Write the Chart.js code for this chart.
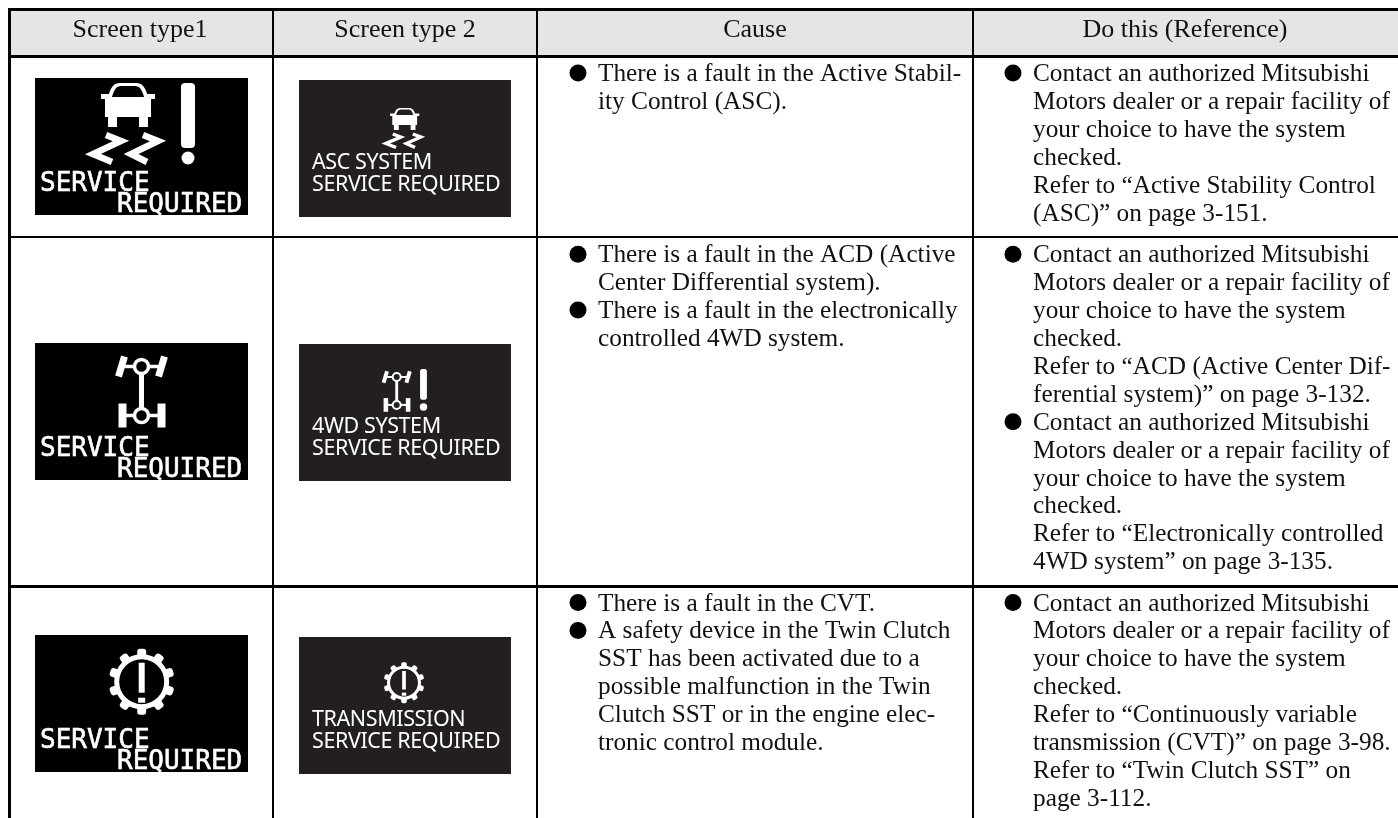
<!DOCTYPE html>
<html>
<head>
<meta charset="utf-8">
<title>Service required screens</title>
<script src="https://cdn.jsdelivr.net/npm/chart.js@4/dist/chart.umd.min.js"></script>
<style>
  html, body { margin: 0; padding: 0; background: #fff; overflow: hidden; }
  #wrap { position: absolute; left: 8px; top: 8px; width: 1390px; height: 810px; }
</style>
</head>
<body>
<div id="wrap"><canvas id="tableChart" width="1390" height="810"></canvas></div>
<script>
// table content
const columnHeaders = ['Screen type1', 'Screen type 2', 'Cause', 'Do this (Reference)'];
const screen1Lines = ['SERVICE', 'REQUIRED'];
const screen2Titles = ['ASC SYSTEM', '4WD SYSTEM', 'TRANSMISSION'];
const screen2Second = 'SERVICE REQUIRED';
const screenIcons = ['car', 'axles', 'gear'];

// each cell is a list of bullets, each bullet a list of wrapped lines
const causeCells = [
  [['There is a fault in the Active Stabil-', 'ity Control (ASC).']],
  [['There is a fault in the ACD (Active', 'Center Differential system).'],
   ['There is a fault in the electronically', 'controlled 4WD system.']],
  [['There is a fault in the CVT.'],
   ['A safety device in the Twin Clutch', 'SST has been activated due to a', 'possible malfunction in the Twin',
    'Clutch SST or in the engine elec-', 'tronic control module.']]
];
const actionCells = [
  [['Contact an authorized Mitsubishi', 'Motors dealer or a repair facility of', 'your choice to have the system', 'checked.',
    'Refer to “Active Stability Control', '(ASC)” on page 3-151.']],
  [['Contact an authorized Mitsubishi', 'Motors dealer or a repair facility of', 'your choice to have the system', 'checked.',
    'Refer to “ACD (Active Center Dif-', 'ferential system)” on page 3-132.'],
   ['Contact an authorized Mitsubishi', 'Motors dealer or a repair facility of', 'your choice to have the system', 'checked.',
    'Refer to “Electronically controlled', '4WD system” on page 3-135.']],
  [['Contact an authorized Mitsubishi', 'Motors dealer or a repair facility of', 'your choice to have the system', 'checked.',
    'Refer to “Continuously variable', 'transmission (CVT)” on page 3-98.', 'Refer to “Twin Clutch SST” on', 'page 3-112.']]
];

// layout, in page pixels (the scales run in page pixels too)
const colEdges = [9.5, 273, 537, 973];
const colWidths = [3, 2, 2, 2];
const rowEdges = [9.5, 56.5, 237, 586];
const rowWidths = [3, 3, 2, 3];
const rowBaselines = [81, 262.3, 610.5];
const lineGap = 27.9;
const bodyFont = '25.3px "Liberation Serif"';
const headFont = '26px "Liberation Serif"';
const headerCentres = [140, 405, 755, 1185];
const textLeft = [598, 1033];
const bulletX = [578, 1013];

const box1Tops = [78, 343, 635];
const box2Tops = [80, 344, 637];

// bullets go through the scatter dataset, one point per first line of a bullet
function bulletPoints(cells, x) {
  const pts = [];
  cells.forEach((cell, r) => {
    let line = 0;
    cell.forEach(bullet => {
      pts.push({ x: x, y: rowBaselines[r] + line * lineGap - 8 });
      line += bullet.length;
    });
  });
  return pts;
}

function drawCar(ctx, withMark, back) {
  ctx.fillStyle = '#fff';
  ctx.strokeStyle = '#fff';
  ctx.beginPath();
  ctx.moveTo(-20, 15);
  ctx.bezierCurveTo(-18, 4, -14, 0, -8, 0);
  ctx.lineTo(8, 0);
  ctx.bezierCurveTo(14, 0, 18, 4, 20, 15);
  ctx.closePath(); ctx.fill();
  ctx.fillRect(-27, 11, 54, 5);
  ctx.fillRect(-23, 14, 46, 20);
  ctx.fillRect(-20, 34, 9, 10);
  ctx.fillRect(11, 34, 9, 10);
  ctx.fillStyle = back;
  ctx.beginPath();
  ctx.moveTo(-16, 14);
  ctx.bezierCurveTo(-14, 6, -11, 3, -7, 3);
  ctx.lineTo(7, 3);
  ctx.bezierCurveTo(11, 3, 14, 6, 16, 14);
  ctx.closePath(); ctx.fill();
  ctx.lineWidth = 6.5;
  ctx.lineJoin = 'miter';
  [[-22, 52, -7, 58, -35, 71, -16, 79], [15, 52, 30, 58, 3, 71, 19, 79]].forEach(p => {
    ctx.beginPath();
    ctx.moveTo(p[0], p[1]); ctx.lineTo(p[2], p[3]); ctx.lineTo(p[4], p[5]); ctx.lineTo(p[6], p[7]);
    ctx.stroke();
  });
  if (withMark) {
    ctx.fillStyle = '#fff';
    ctx.beginPath(); ctx.roundRect(53, 0, 14, 65, 4); ctx.fill();
    ctx.beginPath(); ctx.arc(60, 75, 6.5, 0, Math.PI * 2); ctx.fill();
  }
}

function drawAxles(ctx, withMark, back) {
  ctx.fillStyle = '#fff';
  ctx.strokeStyle = '#fff';
  ctx.lineWidth = 3.5;
  ctx.beginPath(); ctx.moveTo(-20, 0); ctx.lineTo(20, 0); ctx.stroke();
  ctx.beginPath(); ctx.moveTo(-20, 49); ctx.lineTo(20, 49); ctx.stroke();
  [0, 49].forEach(y => {
    ctx.beginPath(); ctx.arc(0, y, 7, 0, Math.PI * 2);
    ctx.fillStyle = back; ctx.fill(); ctx.stroke();
  });
  ctx.fillStyle = '#fff';
  ctx.fillRect(-2.5, 7, 5, 35);
  ctx.lineWidth = 7;
  ctx.beginPath(); ctx.moveTo(-23, 10); ctx.lineTo(-17, -10); ctx.stroke();
  ctx.beginPath(); ctx.moveTo(17, 10); ctx.lineTo(23, -10); ctx.stroke();
  ctx.fillRect(-23, 37, 8, 24);
  ctx.fillRect(16, 37, 8, 24);
  if (withMark) {
    ctx.beginPath(); ctx.roundRect(41, -14, 12, 54, 4); ctx.fill();
    ctx.beginPath(); ctx.arc(47, 52.6, 6.5, 0, Math.PI * 2); ctx.fill();
  }
}

function drawGear(ctx) {
  ctx.fillStyle = '#fff';
  ctx.strokeStyle = '#fff';
  ctx.lineWidth = 5;
  ctx.beginPath(); ctx.arc(0, 0, 25, 0, Math.PI * 2); ctx.stroke();
  for (let i = 0; i < 10; i++) {
    ctx.save();
    ctx.rotate(i * Math.PI / 5);
    ctx.beginPath(); ctx.roundRect(-4.5, -33, 9, 10, 3); ctx.fill();
    ctx.restore();
  }
  ctx.fillRect(-3, -19, 6, 30);
  ctx.fillRect(-3.5, 16, 7, 5);
}

function iconAt(ctx, name, x, y, sx, sy, back, withMark) {
  ctx.save();
  ctx.translate(x, y);
  ctx.scale(sx, sy);
  if (name === 'car') drawCar(ctx, withMark, back);
  if (name === 'axles') drawAxles(ctx, withMark, back);
  if (name === 'gear') drawGear(ctx);
  ctx.restore();
}

function drawCellText(ctx, cells, left) {
  ctx.font = bodyFont;
  ctx.fillStyle = '#111';
  ctx.textAlign = 'left';
  ctx.textBaseline = 'alphabetic';
  cells.forEach((cell, r) => {
    let line = 0;
    cell.forEach(bullet => {
      bullet.forEach(txt => {
        ctx.fillText(txt, left, rowBaselines[r] + line * lineGap);
        line++;
      });
    });
  });
}

const tablePlugin = {
  id: 'tableCells',
  beforeDraw(chart) {
    const { ctx, scales: { x, y } } = chart;
    ctx.save();
    ctx.fillStyle = '#e5e5e5';
    ctx.fillRect(x.getPixelForValue(colEdges[0]), y.getPixelForValue(rowEdges[0]), chart.width, y.getPixelForValue(rowEdges[1]) - y.getPixelForValue(rowEdges[0]));
    ctx.restore();
  },
  afterDraw(chart) {
    const { ctx, scales: { x, y } } = chart;
    ctx.save();
    // draw the rest in page pixels
    ctx.translate(x.getPixelForValue(0), y.getPixelForValue(0));

    // header row
    ctx.font = headFont;
    ctx.fillStyle = '#111';
    ctx.textAlign = 'center';
    ctx.textBaseline = 'alphabetic';
    columnHeaders.forEach((h, i) => ctx.fillText(h, headerCentres[i], 37));

    // screens, first type
    box1Tops.forEach((top, r) => {
      ctx.fillStyle = '#000';
      ctx.fillRect(35, top, 213, 137);
      ctx.fillStyle = '#fff';
      ctx.textAlign = 'left';
      ctx.font = '26px "DejaVu Sans Mono"';
      ctx.fillText(screen1Lines[0], 40, top + 113);
      ctx.fillText(screen1Lines[1], 117, top + 134);
      ctx.strokeStyle = '#fff';
      ctx.lineWidth = 0.6;
      ctx.strokeText(screen1Lines[0], 40, top + 113);
      ctx.strokeText(screen1Lines[1], 117, top + 134);
      if (screenIcons[r] === 'car') iconAt(ctx, 'car', 128, top + 5, 1, 1, '#000', true);
      if (screenIcons[r] === 'axles') iconAt(ctx, 'axles', 141.5, top + 23.5, 1, 1, '#000', false);
      if (screenIcons[r] === 'gear') iconAt(ctx, 'gear', 141.7, top + 46.7, 1, 1, '#000', false);
    });

    // screens, second type
    box2Tops.forEach((top, r) => {
      ctx.fillStyle = '#231f20';
      ctx.fillRect(299, top, 212, 137);
      ctx.fillStyle = '#fff';
      ctx.textAlign = 'left';
      ctx.font = '21.5px "Noto Sans"';
      ctx.letterSpacing = '-0.4px';
      ctx.fillText(screen2Titles[r], 312, top + 89);
      ctx.fillText(screen2Second, 312, top + 110.7);
      ctx.letterSpacing = '0px';
      if (screenIcons[r] === 'car') iconAt(ctx, 'car', 404.7, top + 28, 0.54, 0.5, '#231f20', false);
      if (screenIcons[r] === 'axles') iconAt(ctx, 'axles', 396.7, top + 33, 0.57, 0.57, '#231f20', true);
      if (screenIcons[r] === 'gear') iconAt(ctx, 'gear', 404, top + 45.7, 0.62, 0.62, '#231f20', false);
    });

    drawCellText(ctx, causeCells, textLeft[0]);
    drawCellText(ctx, actionCells, textLeft[1]);
    ctx.restore();
  }
};

new Chart(document.getElementById('tableChart').getContext('2d'), {
  type: 'scatter',
  data: {
    datasets: [{
      label: 'Cause bullets',
      data: bulletPoints(causeCells, bulletX[0]),
      pointRadius: 8.5,
      pointBackgroundColor: '#000',
      pointBorderWidth: 0
    }, {
      label: 'Action bullets',
      data: bulletPoints(actionCells, bulletX[1]),
      pointRadius: 8.5,
      pointBackgroundColor: '#000',
      pointBorderWidth: 0
    }]
  },
  options: {
    responsive: false,
    animation: false,
    layout: { padding: 0, autoPadding: false },
    events: [],
    scales: {
      x: {
        type: 'linear', min: 8, max: 1398,
        afterBuildTicks: axis => { axis.ticks = colEdges.map(v => ({ value: v })); },
        ticks: { display: false },
        border: { display: false },
        grid: { color: '#000', lineWidth: c => colWidths[c.index] || 0, drawTicks: false }
      },
      y: {
        type: 'linear', min: 8, max: 818, reverse: true,
        afterBuildTicks: axis => { axis.ticks = rowEdges.map(v => ({ value: v })); },
        ticks: { display: false },
        border: { display: false },
        grid: { color: '#000', lineWidth: c => rowWidths[c.index] || 0, drawTicks: false }
      }
    },
    plugins: { legend: { display: false }, tooltip: { enabled: false } }
  },
  plugins: [tablePlugin]
});
</script>
</body>
</html>
